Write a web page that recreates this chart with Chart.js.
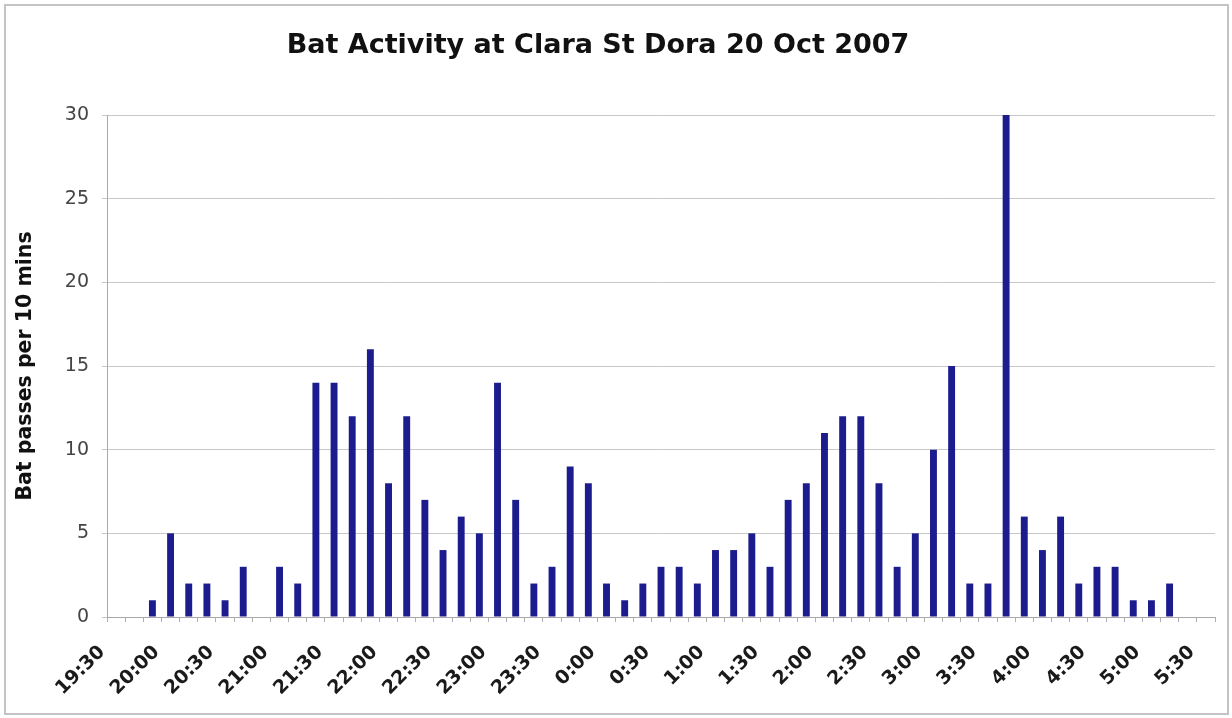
<!DOCTYPE html>
<html>
<head>
<meta charset="utf-8">
<title>Bat Activity at Clara St Dora 20 Oct 2007</title>
<script src="https://cdn.jsdelivr.net/npm/chart.js@4.4.1/dist/chart.umd.min.js"></script>
<style>
  html, body { margin: 0; padding: 0; background: #fff; }
  #wrap { width: 1232px; height: 718px; }
</style>
</head>
<body>
<div id="wrap"><canvas id="grafico" width="1232" height="718"></canvas></div>
<script>
// --- datos: pases de murcielago cada 10 minutos, 19:30 a 5:30 ---
const horas = [
  '19:30', '19:40', '19:50', '20:00', '20:10', '20:20', '20:30', '20:40', '20:50',
  '21:00', '21:10', '21:20', '21:30', '21:40', '21:50', '22:00', '22:10', '22:20',
  '22:30', '22:40', '22:50', '23:00', '23:10', '23:20', '23:30', '23:40', '23:50',
  '0:00', '0:10', '0:20', '0:30', '0:40', '0:50', '1:00', '1:10', '1:20',
  '1:30', '1:40', '1:50', '2:00', '2:10', '2:20', '2:30', '2:40', '2:50',
  '3:00', '3:10', '3:20', '3:30', '3:40', '3:50', '4:00', '4:10', '4:20',
  '4:30', '4:40', '4:50', '5:00', '5:10', '5:20', '5:30'
];
const pasesMurcielago = [
  0, 0, 1, 5, 2, 2, 1, 3, 0,
  3, 2, 14, 14, 12, 16, 8, 12, 7,
  4, 6, 5, 14, 7, 2, 3, 9, 8,
  2, 1, 2, 3, 3, 2, 4, 4, 5,
  3, 7, 8, 11, 12, 12, 8, 3, 5,
  10, 15, 2, 2, 30, 6, 4, 6, 2,
  3, 3, 1, 1, 2, 0, 0
];
const ticksY = [0, 5, 10, 15, 20, 25, 30];
const titulo = 'Bat Activity at Clara St Dora 20 Oct 2007';

const FUENTE = "'DejaVu Sans', Verdana, sans-serif";

// marco gris, fondo blanco y titulo (un poco a la izquierda del centro, como el original)
const marco = {
  id: 'marco',
  beforeDraw(chart) {
    const ctx = chart.ctx;
    ctx.save();
    ctx.fillStyle = '#ffffff';
    ctx.fillRect(0, 0, chart.width, chart.height);
    ctx.strokeStyle = '#c4c4c4';
    ctx.lineWidth = 2;
    ctx.strokeRect(5, 5, chart.width - 9, chart.height - 9);
    ctx.fillStyle = '#111';
    ctx.font = 'bold 27px ' + FUENTE;
    ctx.textAlign = 'center';
    ctx.textBaseline = 'middle';
    ctx.fillText(titulo, 598, 46);
    ctx.restore();
  }
};

new Chart(document.getElementById('grafico'), {
  type: 'bar',
  data: {
    labels: horas,
    datasets: [{
      label: 'Bat passes',
      data: pasesMurcielago,
      backgroundColor: '#1c1c8e',
      borderWidth: 0,
      categoryPercentage: 1,
      barPercentage: 0.38
    }]
  },
  options: {
    responsive: false,
    animation: false,
    devicePixelRatio: 1,
    layout: { padding: { left: 10, right: 17, top: 115, bottom: 0 } },
    plugins: {
      legend: { display: false },
      tooltip: { enabled: false },
      title: { display: false }
    },
    scales: {
      x: {
        grid: {
          display: true,
          offset: true,
          drawOnChartArea: false,
          drawTicks: true,
          tickLength: 5,
          color: '#b0b0b0'
        },
        border: { color: '#a8a8a8', width: 1 },
        ticks: {
          autoSkip: false,
          maxRotation: 45,
          minRotation: 45,
          labelOffset: -14,
          padding: 19,
          color: '#1a1a1a',
          font: { family: FUENTE, size: 19, weight: 'bold' },
          callback: (v, i) => (i % 3 === 0 ? horas[i] : '')
        },
        afterFit: (scale) => {
          scale.height = 101;
          scale.paddingLeft = 0;
          scale.paddingRight = 0;
        }
      },
      y: {
        min: 0,
        max: 30,
        grid: { color: '#c8c8c8', tickLength: 5, drawTicks: true },
        border: { color: '#a8a8a8', width: 1 },
        ticks: {
          stepSize: 5,
          padding: 13,
          color: '#444',
          font: { family: FUENTE, size: 19 },
          callback: (v) => (ticksY.includes(v) ? v : '')
        },
        title: {
          display: true,
          text: 'Bat passes per 10 mins',
          color: '#111',
          font: { family: FUENTE, size: 20.5, weight: 'bold' },
          padding: { top: 3, bottom: 0 }
        },
        afterFit: (scale) => { scale.width = 97; }
      }
    }
  },
  plugins: [marco]
});
</script>
</body>
</html>
